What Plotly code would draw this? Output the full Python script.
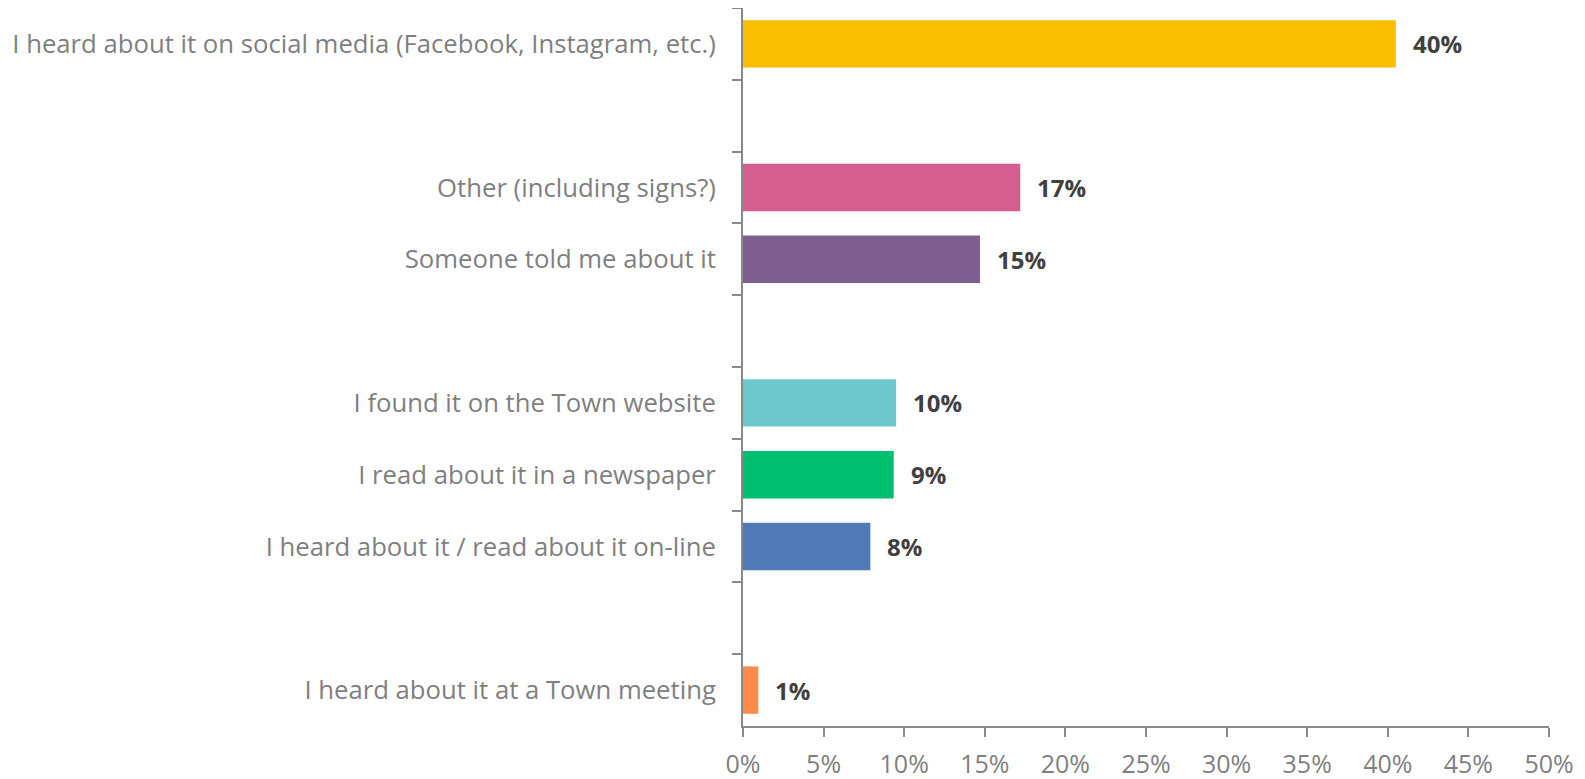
import plotly.graph_objects as go

categories = [
    "I heard about it on social media (Facebook, Instagram, etc.)",
    " ",
    "Other (including signs?)",
    "Someone told me about it",
    "  ",
    "I found it on the Town website",
    "I read about it in a newspaper",
    "I heard about it / read about it on-line",
    "   ",
    "I heard about it at a Town meeting",
]
values = [40.5, None, 17.2, 14.7, None, 9.5, 9.35, 7.9, None, 0.95]
labels = ["40%", "", "17%", "15%", "", "10%", "9%", "8%", "", "1%"]
colors = ["#F9BE00", "#FFFFFF", "#D45E8E", "#7E5F8F", "#FFFFFF",
          "#6CC8CC", "#00BF6F", "#4F7AB5", "#FFFFFF", "#FF8A4C"]

x_ticks = [0, 5, 10, 15, 20, 25, 30, 35, 40, 45, 50]
x_tick_text = ["0%", "5%", "10%", "15%", "20%", "25%", "30%", "35%", "40%", "45%", "50%"]

fig = go.Figure()
fig.add_trace(go.Bar(
    y=categories, x=values, orientation="h",
    marker=dict(color=colors, line=dict(width=0)),
    width=0.66, hoverinfo="skip",
))

for c, v, t in zip(categories, values, labels):
    if v is None:
        continue
    fig.add_annotation(x=v, y=c, text="<b>" + t + "</b>", showarrow=False,
                       xanchor="left", yanchor="middle", xshift=15,
                       font=dict(family="Open Sans", size=24, color="#404040"))

fig.update_layout(
    width=1577, height=771,
    margin=dict(l=735, r=36, t=0, b=53),
    paper_bgcolor="white", plot_bgcolor="white",
    showlegend=False,
    font=dict(family="Open Sans", color="#7F7F7F"),
    xaxis=dict(
        range=[0, 50], tickvals=x_ticks, ticktext=x_tick_text,
        showgrid=False, zeroline=False, automargin=False,
        showline=True, linecolor="#898989", linewidth=2,
        ticks="outside", ticklen=9, tickwidth=2, tickcolor="#898989",
        ticklabelstandoff=6,
        tickfont=dict(family="Open Sans", size=25, color="#7F7F7F"),
    ),
    yaxis=dict(
        type="category", categoryorder="array", categoryarray=categories,
        autorange="reversed", automargin=False,
        showgrid=False, zeroline=False,
        showline=True, linecolor="#898989", linewidth=2,
        ticks="outside", ticklen=9, tickwidth=2, tickcolor="#898989",
        tickson="boundaries", ticklabelstandoff=20,
        tickfont=dict(family="Open Sans", size=25.7, color="#7F7F7F"),
    ),
)

fig.write_html("out.html")
